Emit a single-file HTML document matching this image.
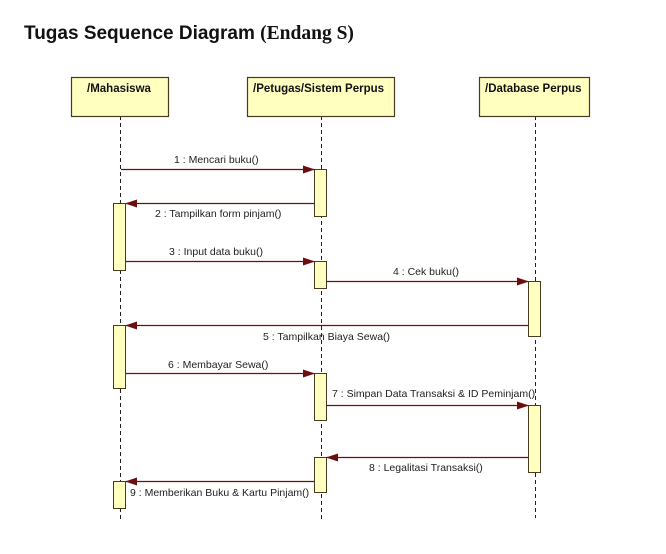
<!DOCTYPE html>
<html><head><meta charset="utf-8"><style>
html,body{margin:0;padding:0;background:#fff;}
svg{display:block;}
.h{font-family:"Liberation Sans",sans-serif;font-weight:bold;font-size:11.5px;fill:#111;}
.m{font-family:"Liberation Sans",sans-serif;font-size:10.5px;fill:#222;}
</style></head><body>
<svg width="666" height="554" viewBox="0 0 666 554" xmlns="http://www.w3.org/2000/svg">
<defs>
<marker id="a" markerWidth="12" markerHeight="10" refX="11" refY="5" orient="auto" markerUnits="userSpaceOnUse">
<path d="M0,1 L12,5 L0,9 Z" fill="#6b0e10"/>
</marker>
</defs>
<text x="24" y="39" font-family="Liberation Sans,sans-serif" font-weight="bold" font-size="19" fill="#111">Tugas Sequence Diagram <tspan font-family="Liberation Serif,serif" font-size="19.5">(Endang S)</tspan></text>

<g stroke="#222" stroke-width="1" stroke-dasharray="4,3">
<line x1="120.5" y1="116" x2="120.5" y2="520"/>
<line x1="321.5" y1="116" x2="321.5" y2="520"/>
<line x1="535.5" y1="116" x2="535.5" y2="518"/>
</g>

<g fill="#ffffc0" stroke="#4a3a20" stroke-width="1.2">
<rect x="71.5" y="77.5" width="97" height="39"/>
<rect x="247.5" y="77.5" width="147" height="39"/>
<rect x="479.5" y="77.5" width="110" height="39"/>
</g>
<text class="h" x="87" y="92">/Mahasiswa</text>
<text class="h" x="253" y="92">/Petugas/Sistem Perpus</text>
<text class="h" x="485" y="92">/Database Perpus</text>

<g fill="#ffffc0" stroke="#4a3a20" stroke-width="1">
<rect x="314.5" y="169.5" width="12" height="47"/>
<rect x="113.5" y="203.5" width="12" height="67"/>
<rect x="314.5" y="261.5" width="12" height="27"/>
<rect x="528.5" y="281.5" width="12" height="55"/>
<rect x="113.5" y="325.5" width="12" height="63"/>
<rect x="314.5" y="373.5" width="12" height="47"/>
<rect x="528.5" y="405.5" width="12" height="67"/>
<rect x="314.5" y="457.5" width="12" height="35"/>
<rect x="113.5" y="481.5" width="12" height="27"/>
</g>

<g stroke="#6b0e10" stroke-width="1.2" marker-end="url(#a)">
<line x1="121" y1="169.5" x2="314" y2="169.5"/>
<line x1="314" y1="203.5" x2="126" y2="203.5"/>
<line x1="126" y1="261.5" x2="314" y2="261.5"/>
<line x1="327" y1="281.5" x2="528" y2="281.5"/>
<line x1="528" y1="325.5" x2="126" y2="325.5"/>
<line x1="126" y1="373.5" x2="314" y2="373.5"/>
<line x1="327" y1="405.5" x2="528" y2="405.5"/>
<line x1="528" y1="457.5" x2="327" y2="457.5"/>
<line x1="314" y1="481.5" x2="126" y2="481.5"/>
</g>

<text class="m" x="174" y="163">1 : Mencari buku()</text>
<text class="m" x="155" y="217">2 : Tampilkan form pinjam()</text>
<text class="m" x="169" y="255">3 : Input data buku()</text>
<text class="m" x="393" y="275">4 : Cek buku()</text>
<text class="m" x="263" y="340">5 : Tampilkan Biaya Sewa()</text>
<text class="m" x="168" y="368">6 : Membayar Sewa()</text>
<text class="m" x="332" y="397">7 : Simpan Data Transaksi &amp; ID Peminjam()</text>
<text class="m" x="369" y="471">8 : Legalitasi Transaksi()</text>
<text class="m" x="130" y="496">9 : Memberikan Buku &amp; Kartu Pinjam()</text>
</svg>
</body></html>
